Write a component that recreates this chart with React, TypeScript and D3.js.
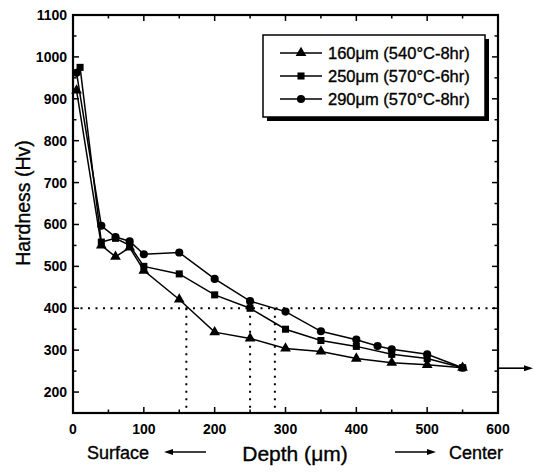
import React from 'react';
import * as d3 from 'd3';

// depth (um) / hardness (Hv)
const tri160: [number, number][] = [
  [5, 920], [40, 550], [60, 523], [80, 545], [100, 490], [150, 421], [200, 343],
  [250, 328], [300, 304], [350, 297], [400, 280], [450, 270], [500, 265], [550, 258],
];
const sq250: [number, number][] = [
  [10, 975], [40, 558], [60, 567], [80, 550], [100, 500], [150, 482], [200, 432],
  [250, 400], [300, 350], [350, 323], [400, 309], [450, 290], [500, 280], [550, 258],
];
const circ290: [number, number][] = [
  [5, 962], [40, 597], [60, 570], [80, 560], [100, 529], [150, 533], [200, 470],
  [250, 417], [300, 392], [350, 345], [400, 325], [430, 310], [450, 302], [500, 290], [550, 258],
];
const legendLabels = ['160\u03bcm (540\u00b0C-8hr)', '250\u03bcm (570\u00b0C-6hr)', '290\u03bcm (570\u00b0C-8hr)'];
const xTicks = [0, 100, 200, 300, 400, 500, 600];
const yTicks = [200, 300, 400, 500, 600, 700, 800, 900, 1000, 1100];
const criterion = 400;
const caseDepths = [160, 250, 285];

const W = 534;
const H = 474;
const margin = { top: 15, right: 36, bottom: 61, left: 73 };

const App: React.FC = () => {
  const x = d3.scaleLinear().domain([0, 600]).range([margin.left, W - margin.right]);
  const y = d3.scaleLinear().domain([150, 1100]).range([H - margin.bottom, margin.top]);
  const line = d3.line<[number, number]>().x(d => x(d[0])).y(d => y(d[1]));

  const series = [
    { data: tri160, shape: d3.symbolTriangle, size: 50 },
    { data: sq250, shape: d3.symbolSquare, size: 50 },
    { data: circ290, shape: d3.symbolCircle, size: 52 },
  ];

  const x0 = x(0), x1 = x(600), y0 = y(150), y1 = y(1100);
  const font = 'Arial, "Liberation Sans", sans-serif';
  const xMinor = d3.range(50, 600, 50);
  const yMinor = d3.range(150, 1100, 50).filter(v => v > 150);
  const ink = { stroke: '#000', strokeWidth: 0.35 };

  const legX = 263, legY = 35, legW = 222, legH = 82;

  return (
    <svg width={W} height={H} style={{ position: 'absolute', left: 0, top: 0, background: '#fff' }}
      fontFamily={font}>
      {/* criterion dotted lines */}
      <line x1={x0} x2={x1} y1={y(criterion)} y2={y(criterion)} stroke="#000" strokeWidth={2}
        strokeDasharray="2,5.5" />
      {caseDepths.map(d => (
        <line key={d} x1={x(d)} x2={x(d)} y1={y(criterion)} y2={y0} stroke="#000" strokeWidth={2}
          strokeDasharray="2,5.5" />
      ))}

      {/* series */}
      {series.map((s, i) => (
        <g key={i}>
          <path d={line(s.data) || ''} fill="none" stroke="#000" strokeWidth={1.5} />
          {s.data.map((p, j) => (
            <path key={j} transform={`translate(${x(p[0])},${y(p[1])})`}
              d={d3.symbol().type(s.shape).size(s.size)() || ''} fill="#000" />
          ))}
        </g>
      ))}

      {/* frame */}
      <rect x={x0} y={y1} width={x1 - x0} height={y0 - y1} fill="none" stroke="#000" strokeWidth={2.2} />
      {xMinor.map(v => {
        const len = v % 100 === 0 ? 6 : 3.5;
        return (
          <g key={v}>
            <line x1={x(v)} x2={x(v)} y1={y0} y2={y0 - len} stroke="#000" strokeWidth={1.5} />
            <line x1={x(v)} x2={x(v)} y1={y1} y2={y1 + len} stroke="#000" strokeWidth={1.5} />
          </g>
        );
      })}
      {yMinor.map(v => {
        const len = v % 100 === 0 ? 6 : 3.5;
        return (
          <g key={v}>
            <line x1={x0} x2={x0 + len} y1={y(v)} y2={y(v)} stroke="#000" strokeWidth={1.5} />
            <line x1={x1} x2={x1 - len} y1={y(v)} y2={y(v)} stroke="#000" strokeWidth={1.5} />
          </g>
        );
      })}

      {/* tick labels */}
      {xTicks.map(v => (
        <text key={v} x={x(v)} y={y0 + 21} textAnchor="middle" fontSize={14} fontWeight="bold">{v}</text>
      ))}
      {yTicks.map(v => (
        <text key={v} x={x0 - 6} y={y(v) + 5} textAnchor="end" fontSize={14} fontWeight="bold">{v}</text>
      ))}

      {/* axis titles */}
      <text transform={`translate(30,203) rotate(-90)`} textAnchor="middle" fontSize={19.5} {...ink}>
        Hardness (Hv)
      </text>
      <text x={295} y={461} textAnchor="middle" fontSize={21} {...ink}>Depth ({'\u03bc'}m)</text>
      <text x={87} y={459} fontSize={18} {...ink}>Surface</text>
      <text x={449} y={459} fontSize={18} {...ink}>Center</text>
      <line x1={206} x2={171} y1={452} y2={452} stroke="#000" strokeWidth={1.6} />
      <path d="M164,452 L173,449 L173,455 Z" fill="#000" />
      <line x1={395} x2={428} y1={452} y2={452} stroke="#000" strokeWidth={1.6} />
      <path d="M436,452 L427,449 L427,455 Z" fill="#000" />

      {/* arrow out of the right axis */}
      <line x1={x1} x2={526} y1={y(257)} y2={y(257)} stroke="#000" strokeWidth={1.6} />
      <path d={`M533,${y(257)} L524,${y(257) - 3} L524,${y(257) + 3} Z`} fill="#000" />

      {/* legend */}
      <rect x={legX + 4} y={legY + 4} width={legW} height={legH} fill="#000" />
      <rect x={legX} y={legY} width={legW} height={legH} fill="#fff" stroke="#000" strokeWidth={1.5} />
      {series.map((s, i) => {
        const ly = legY + 18 + i * 23;
        return (
          <g key={i}>
            <line x1={legX + 17} x2={legX + 59} y1={ly} y2={ly} stroke="#000" strokeWidth={1.5} />
            <path transform={`translate(${legX + 38},${ly})`}
              d={d3.symbol().type(s.shape).size(s.size)() || ''} fill="#000" />
            <text x={legX + 65} y={ly + 6} fontSize={16.5} {...ink}>{legendLabels[i]}</text>
          </g>
        );
      })}
    </svg>
  );
};

export default App;
